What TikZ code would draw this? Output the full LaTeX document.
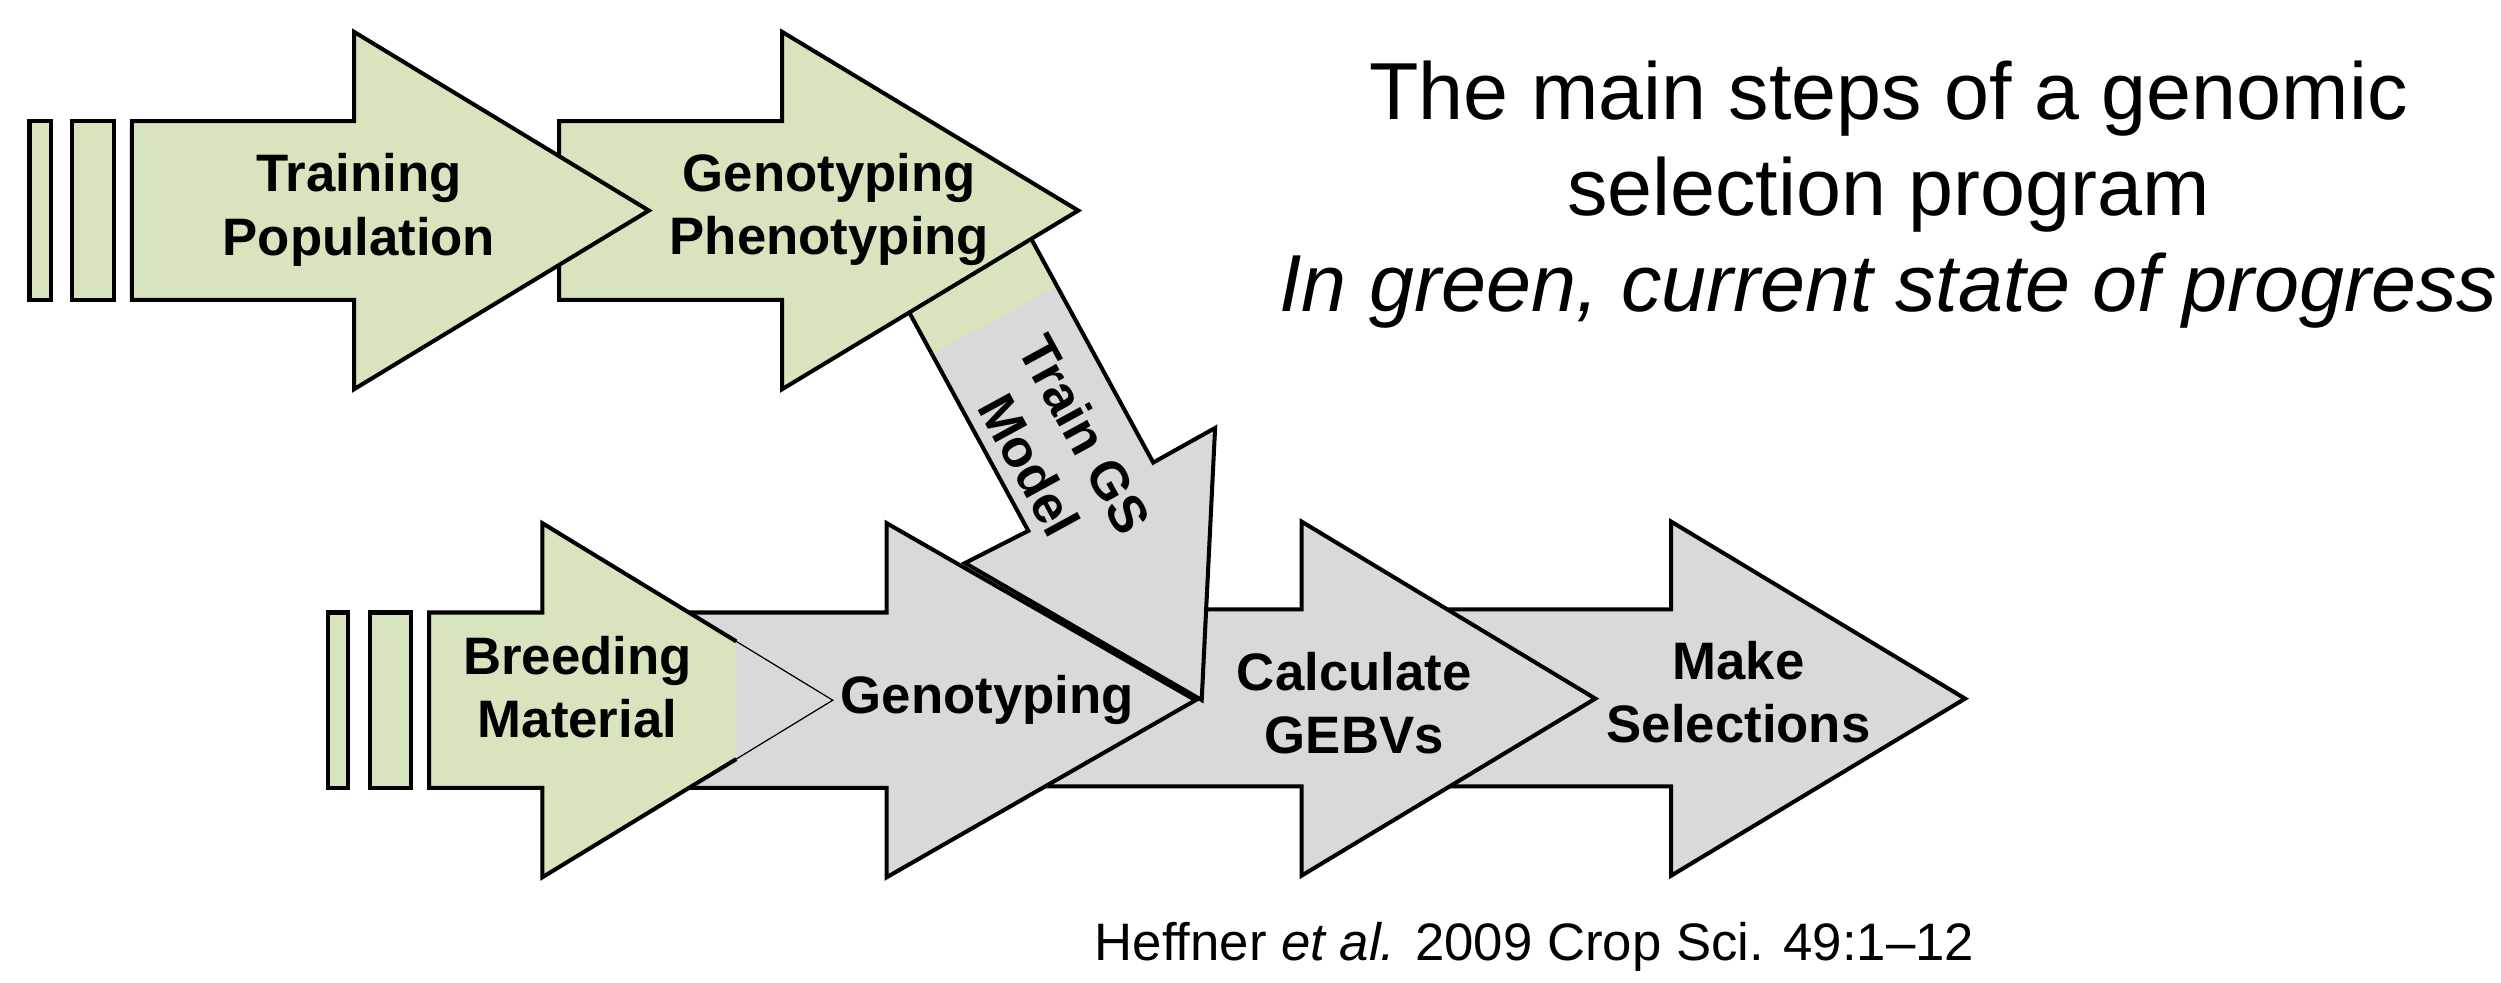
\documentclass[tikz,border=0pt]{standalone}
\usepackage{fontspec}
\setmainfont{Liberation Sans}
\usepackage{tikz}
\definecolor{StepGreen}{HTML}{D7E4BD}
\definecolor{StepGray}{HTML}{D9D9D9}

\begin{document}
\begin{tikzpicture}[
  x=0.01595cm, y=-0.01595cm,
  every node/.style={inner sep=0pt},
  grn/.style={draw=black, fill=StepGreen, line width=1.15pt},
  gry/.style={draw=black, fill=StepGray, line width=1.15pt},
  outln/.style={draw=black, line width=1.15pt},
  thinln/.style={draw=black, line width=0.35pt},
  lbl/.style={font=\fontsize{15}{18}\selectfont\bfseries, align=center},
  ttl/.style={font=\fontsize{23}{27.2}\selectfont, align=center},
]
\useasboundingbox (0,0) rectangle (1568,616);
% lower row, back to front
\draw[gry] (880,382) -- (1047.7,382) -- (1047.7,327) -- (1232,438) -- (1047.7,549) -- (1047.7,493) -- (880,493) -- cycle;
\draw[gry] (640,382) -- (816,382) -- (816,327) -- (1000.2,438) -- (816,549) -- (816,493) -- (640,493) -- cycle;
\draw[gry] (420,384) -- (555.9,384) -- (555.9,328) -- (749.5,439) -- (555.9,550) -- (555.9,494) -- (420,494) -- cycle;
\fill[StepGreen] (269,384) -- (340,384) -- (340,328) -- (522.1,439) -- (340,550) -- (340,494) -- (269,494) -- cycle;
\fill[StepGray] (461.6,402.1) -- (522.1,439) -- (461.6,475.9) -- cycle;
\draw[outln] (461.6,402.1) -- (340,328) -- (340,384) -- (269,384) -- (269,494) -- (340,494) -- (340,550) -- (461.6,475.9);
\draw[thinln] (461.6,402.1) -- (522.1,439) -- (461.6,475.9);
\draw[grn] (205.4,384) rectangle (217.9,494);
\draw[grn] (232,384) rectangle (257.6,494);
% slanted arrow between the rows
\fill[StepGray] (563.3,183.5) -- (644.7,332.8) -- (605,353) -- (753.4,438.9) -- (761.8,268.3) -- (723,290) -- (641.6,140.7) -- cycle;
\fill[StepGreen] (563.3,183.5) -- (584.3,222.2) -- (662.6,179.4) -- (641.6,140.7) -- cycle;
\draw[outln] (563.3,183.5) -- (644.7,332.8) -- (605,353) -- (753.4,438.9) -- (761.8,268.3) -- (723,290) -- (641.6,140.7) -- cycle;
% upper row
\draw[grn] (350.5,76) -- (490.4,76) -- (490.4,20) -- (676,132) -- (490.4,244) -- (490.4,188) -- (350.5,188) -- cycle;
\draw[grn] (82.7,76) -- (222,76) -- (222,20) -- (406.8,132) -- (222,244) -- (222,188) -- (82.7,188) -- cycle;
\draw[grn] (18.5,76) rectangle (31.7,188);
\draw[grn] (45.3,76) rectangle (71.2,188);
% labels
\node[lbl] (tp)  at (225,131.5) {Training\\Population};
\node[lbl] (gp)  at (520,131.5) {Genotyping\\Phenotyping};
\node[lbl, rotate=-61.4] (tgs) at (663,282) {Train GS\\Model};
\node[lbl] (bm)  at (362,431) {Breeding\\Material};
\node[lbl] (gt)  at (619,439) {Genotyping};
\node[lbl] (cg)  at (849,441) {Calculate\\GEBVs};
\node[lbl] (ms)  at (1090,434) {Make\\Selections};
\node[ttl] (ttl) at (1184,122) {The main steps of a genomic\\selection program\\\textit{In green, current state of progress}};
\node[font=\fontsize{15}{18}\selectfont, anchor=base] (ref) at (962,602) {Heffner \textit{et al.} 2009 Crop Sci. 49:1--12};
\end{tikzpicture}
\end{document}
